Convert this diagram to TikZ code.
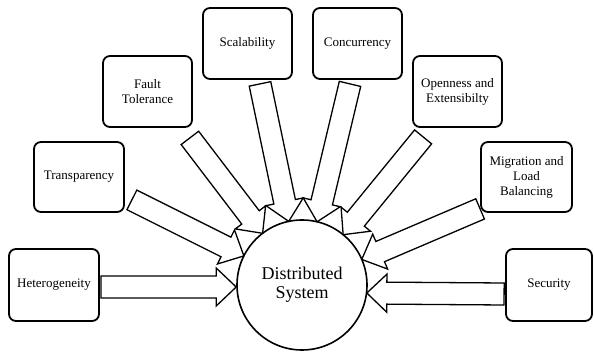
\documentclass[tikz,border=0pt]{standalone}
\usepackage{fontspec}
\setmainfont{Liberation Serif}
\usetikzlibrary{calc}
\tikzset{
  box/.style={draw, line width=1.8pt, rounded corners=7pt, fill=white, align=center,
    inner sep=2pt, font=\fontsize{13}{15}\selectfont},
  blk/.style={draw, line width=1.3pt, fill=white, line join=miter},
  hub/.style={draw, circle, line width=1.6pt, fill=white, minimum size=130pt, inner sep=0pt,
    align=center, font=\fontsize{18}{19}\selectfont}
}
\newcommand\blockarr[2]{%
  \coordinate (#1b) at ($(#2)!20pt!(#1)$);
  \draw[blk] ($(#1)!11pt!90:(#2)$) -- ($(#1b)!11pt!-90:(#1)$) -- ($(#1b)!19pt!-90:(#1)$)
    -- (#2) -- ($(#1b)!19pt!90:(#1)$) -- ($(#1b)!11pt!90:(#1)$) -- ($(#1)!11pt!-90:(#2)$) -- cycle;}
\begin{document}
\begin{tikzpicture}[x=1pt,y=-1pt]
\useasboundingbox (0,0) rectangle (594,352);
% boxes
\node[box, minimum width=90pt, minimum height=72pt] (het) at (54,285) {Heterogeneity};
\node[box, minimum width=90pt, minimum height=70pt] (tra) at (79,177) {Transparency};
\node[box, minimum width=89pt, minimum height=71pt] (fau) at (147.5,91.5) {Fault\\Tolerance};
\node[box, minimum width=89pt, minimum height=71pt] (sca) at (247.5,43.5) {Scalability};
\node[box, minimum width=89pt, minimum height=71pt] (con) at (357.5,43.5) {Concurrency};
\node[box, minimum width=89pt, minimum height=71pt] (ope) at (457.5,91.5) {Openness and\\Extensibilty};
\node[box, minimum width=91pt, minimum height=70pt] (mig) at (526.5,177) {Migration and\\Load\\Balancing};
\node[box, minimum width=86pt, minimum height=72pt] (sec) at (549,285) {Security};
% hub
\node[hub] (ds) at (302,285) {Distributed\\System};
% arrow tails
\coordinate (t1) at ($(het.east)+(1,2)$);
\coordinate (h1) at ($(ds.west)+(0,2)$);
\coordinate (t2) at ($(tra.south east)+(7,-13)$);
\coordinate (t3) at ($(fau.south east)+(-3,10)$);
\coordinate (t4) at ($(sca.south)+(12.5,4)$);
\coordinate (t5) at ($(con.south)+(-7.5,4)$);
\coordinate (t6) at ($(ope.south west)+(11,9)$);
\coordinate (t7) at ($(mig.south west)+(0,-4)$);
\coordinate (t8) at ($(sec.west)+(-1,9)$);
\coordinate (h8) at ($(ds.east)+(-1,8)$);
\foreach \i in {2,...,7} {\coordinate (h\i) at ($(ds.center)!65pt!(t\i)$);}
% arrows
\foreach \i in {1,...,8} {\blockarr{t\i}{h\i}}
\end{tikzpicture}
\end{document}
